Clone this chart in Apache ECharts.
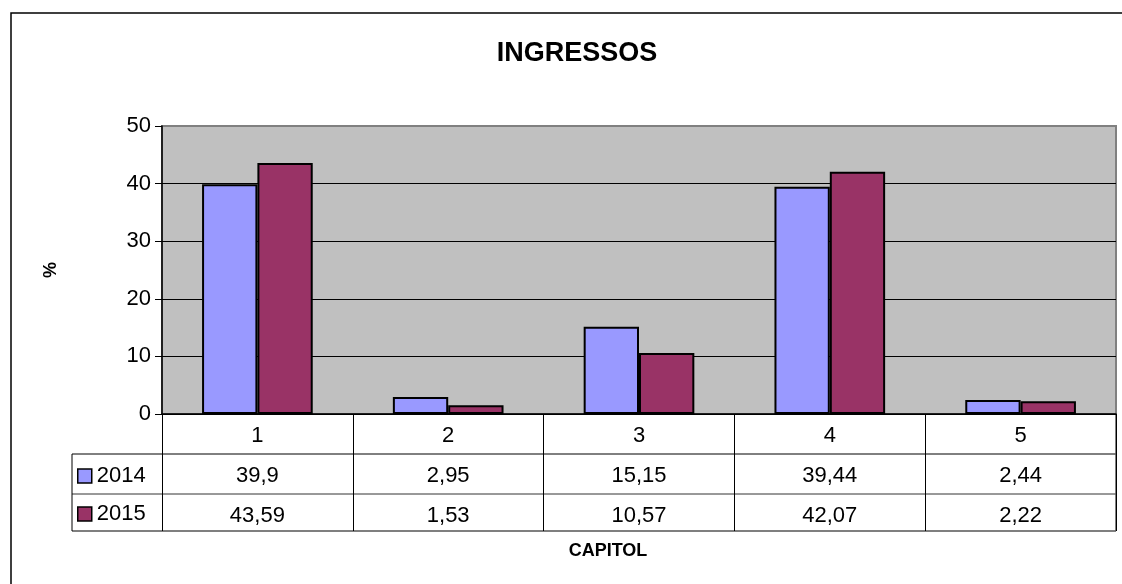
<!DOCTYPE html>
<html>
<head>
<meta charset="utf-8">
<script src="https://cdn.jsdelivr.net/npm/echarts@6/dist/echarts.min.js"></script>
<style>
html,body{margin:0;padding:0;background:#fff;}
#c{width:1122px;height:584px;}
</style>
</head>
<body>
<div id="c"></div>
<script>
const categories = ['1', '2', '3', '4', '5'];
const seriesNames = ['2014', '2015'];
const values2014 = [39.9, 2.95, 15.15, 39.44, 2.44];
const values2015 = [43.59, 1.53, 10.57, 42.07, 2.22];
const yTicks = { min: 0, max: 50, interval: 10 };

const FONT = '"Liberation Sans", Arial, sans-serif';
const fmt = v => String(v).replace('.', ',');
const FS = 22;

const chart = echarts.init(document.getElementById('c'));
const G = { left: 162, right: 6, top: 126, bottom: 170 };
const tableLeft = 72, tableRight = 1116;
const rowY = [454, 494, 531];

const valueAxis = (data, offset) => ({
  type: 'category', gridIndex: 0, position: 'bottom', offset: offset,
  data: data.map(fmt),
  axisLine: { show: false }, axisTick: { show: false }, splitLine: { show: false },
  axisLabel: { color: '#000', fontSize: FS, fontFamily: FONT, margin: 11 }
});

chart.setOption({
  animation: false,
  textStyle: { fontFamily: FONT },
  title: {
    text: 'INGRESSOS', left: 572, top: 35, textAlign: 'center',
    textStyle: { fontSize: 27, fontWeight: 'bold', color: '#000', fontFamily: FONT }
  },
  legend: {
    orient: 'vertical', left: 77, top: 465, itemGap: 16, padding: 0,
    itemWidth: 14, itemHeight: 14, icon: 'rect',
    itemStyle: { borderColor: '#000', borderWidth: 1.5 },
    textStyle: { fontSize: FS, color: '#000', lineHeight: 22, fontFamily: FONT },
    data: seriesNames
  },
  grid: {
    left: G.left, right: G.right, top: G.top, bottom: G.bottom,
    show: true, backgroundColor: '#C0C0C0', borderColor: '#808080', borderWidth: 2
  },
  xAxis: [
    {
      type: 'category', data: categories, position: 'bottom',
      axisLine: { show: true, lineStyle: { color: '#000', width: 1.5 } },
      axisTick: { show: true, length: 117, lineStyle: { color: '#000', width: 1 } },
      axisLabel: { color: '#000', fontSize: FS, fontFamily: FONT, margin: 11 },
      splitLine: { show: false }
    },
    valueAxis(values2014, 40),
    valueAxis(values2015, 80)
  ],
  yAxis: {
    type: 'value', min: yTicks.min, max: yTicks.max, interval: yTicks.interval,
    name: '%', nameLocation: 'middle', nameGap: 102, nameRotate: 90,
    nameTextStyle: { fontSize: 18, fontWeight: 'bold', color: '#000', fontFamily: FONT },
    axisLine: { show: true, lineStyle: { color: '#000', width: 1.5 } },
    axisTick: { show: true, length: 7, lineStyle: { color: '#000' } },
    axisLabel: { color: '#000', fontSize: FS, fontFamily: FONT, margin: 11 },
    splitLine: { show: true, lineStyle: { color: ['#000', '#000', '#000', '#000', '#000', '#808080'], width: 1 } }
  },
  series: [
    {
      name: seriesNames[0], type: 'bar', data: values2014, xAxisIndex: 0,
      barGap: '0%', barCategoryGap: '42%',
      itemStyle: { color: '#9999FF', borderColor: '#000', borderWidth: 2 }
    },
    {
      name: seriesNames[1], type: 'bar', data: values2015, xAxisIndex: 0,
      barGap: '0%', barCategoryGap: '42%',
      itemStyle: { color: '#993366', borderColor: '#000', borderWidth: 2 }
    }
  ],
  graphic: [
    { type: 'rect', shape: { x: 11, y: 13, width: 1300, height: 800 }, style: { fill: 'none', stroke: '#000', lineWidth: 1.5 }, silent: true },
    { type: 'line', shape: { x1: tableLeft, y1: rowY[0], x2: tableRight, y2: rowY[0] }, style: { stroke: '#000', lineWidth: 1 } },
    { type: 'line', shape: { x1: tableLeft, y1: rowY[1], x2: tableRight, y2: rowY[1] }, style: { stroke: '#333', lineWidth: 1 } },
    { type: 'line', shape: { x1: tableLeft, y1: rowY[2], x2: tableRight, y2: rowY[2] }, style: { stroke: '#555', lineWidth: 1.5 } },
    { type: 'line', shape: { x1: tableLeft, y1: rowY[0], x2: tableLeft, y2: rowY[2] }, style: { stroke: '#000', lineWidth: 1 } },
    { type: 'line', shape: { x1: tableRight, y1: 414, x2: tableRight, y2: rowY[2] }, style: { stroke: '#555', lineWidth: 1.5 } },
    { type: 'text', x: 608, y: 551, style: { text: 'CAPITOL', fontSize: 18, fontWeight: 'bold', fill: '#000', fontFamily: FONT, align: 'center', verticalAlign: 'middle' } }
  ]
});
</script>
</body>
</html>
